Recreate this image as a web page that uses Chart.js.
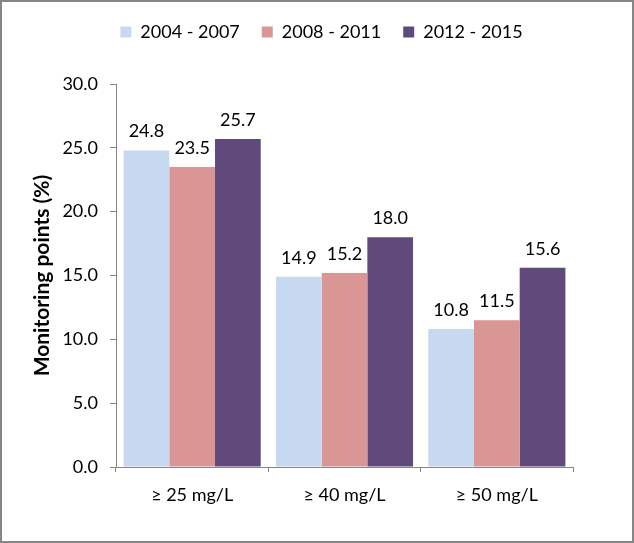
<!DOCTYPE html>
<html>
<head>
<meta charset="utf-8">
<script src="https://cdn.jsdelivr.net/npm/chart.js@4.4.0/dist/chart.umd.min.js"></script>
<style>
  html, body { margin: 0; padding: 0; background: #fff; }
  #wrap { position: relative; width: 634px; height: 543px; }
  #frame { position: absolute; left: 0; top: 0; width: 634px; height: 543px; box-sizing: border-box; border: 2px solid #868686; pointer-events: none; }
  canvas { display: block; }
</style>
</head>
<body>
<div id="wrap">
  <canvas id="c" width="634" height="543"></canvas>
  <div id="frame"></div>
</div>
<script>
const categories = ["\u2265 25 mg/L", "\u2265 40 mg/L", "\u2265 50 mg/L"];
const seriesNames = ["2004 - 2007", "2008 - 2011", "2012 - 2015"];
const values2004 = [24.8, 14.9, 10.8];
const values2008 = [23.5, 15.2, 11.5];
const values2012 = [25.7, 18.0, 15.6];
const seriesColors = ["#C6D9F1", "#D99694", "#604A7B"];
const yTitle = "Monitoring points (%)";

const FONT = "Lato";

const dataLabels = {
  id: "dataLabels",
  afterDatasetsDraw(chart) {
    const ctx = chart.ctx;
    ctx.save();
    ctx.font = "18px " + FONT;
    ctx.fillStyle = "#000";
    ctx.textAlign = "center";
    ctx.textBaseline = "alphabetic";
    chart.data.datasets.forEach((ds, i) => {
      const meta = chart.getDatasetMeta(i);
      meta.data.forEach((bar, j) => {
        ctx.fillText(ds.data[j].toFixed(1), bar.x, bar.y - 13);
      });
    });
    ctx.restore();
  }
};

const legendSpacing = {
  id: "legendSpacing",
  beforeLayout(chart) {
    const lg = chart.legend;
    if (lg && !lg._patched) {
      const orig = lg.fit;
      lg.fit = function () { orig.call(this); this.height += 33; };
      lg._patched = true;
    }
  },
  afterLayout(chart) {
    const lg = chart.legend;
    if (lg) { lg.left += 22; lg.right += 22; }
  }
};

new Chart(document.getElementById("c"), {
  type: "bar",
  data: {
    labels: categories,
    datasets: [
      { label: seriesNames[0], data: values2004, backgroundColor: seriesColors[0] },
      { label: seriesNames[1], data: values2008, backgroundColor: seriesColors[1] },
      { label: seriesNames[2], data: values2012, backgroundColor: seriesColors[2] }
    ]
  },
  options: {
    responsive: false,
    animation: false,
    devicePixelRatio: 1,
    layout: { padding: { left: 26, right: 61, top: 1, bottom: 20 } },
    datasets: { bar: { categoryPercentage: 0.9, barPercentage: 1.0 } },
    plugins: {
      legend: {
        position: "top",
        labels: {
          boxWidth: 11, boxHeight: 11, padding: 22,
          color: "#000",
          font: { family: FONT, size: 18 }
        }
      },
      tooltip: { enabled: false }
    },
    scales: {
      x: {
        grid: { offset: true, drawOnChartArea: false, drawTicks: true, tickLength: 5, color: "#868686" },
        border: { color: "#868686", width: 1 },
        ticks: { color: "#000", font: { family: FONT, size: 18 }, padding: 12 },
        afterFit(scale) { scale.height = 56; }
      },
      y: {
        min: 0, max: 30,
        ticks: { stepSize: 5, color: "#000", font: { family: FONT, size: 18 }, padding: 12,
          callback: (v) => Number(v).toFixed(1) },
        grid: { drawOnChartArea: false, drawTicks: true, tickLength: 6, color: "#868686" },
        border: { color: "#868686", width: 1 },
        title: { display: true, text: yTitle, color: "#000", font: { family: FONT, size: 21, weight: "bold" }, padding: 4 },
        afterFit(scale) { scale.width = 90; }
      }
    }
  },
  plugins: [dataLabels, legendSpacing]
});
</script>
</body>
</html>
